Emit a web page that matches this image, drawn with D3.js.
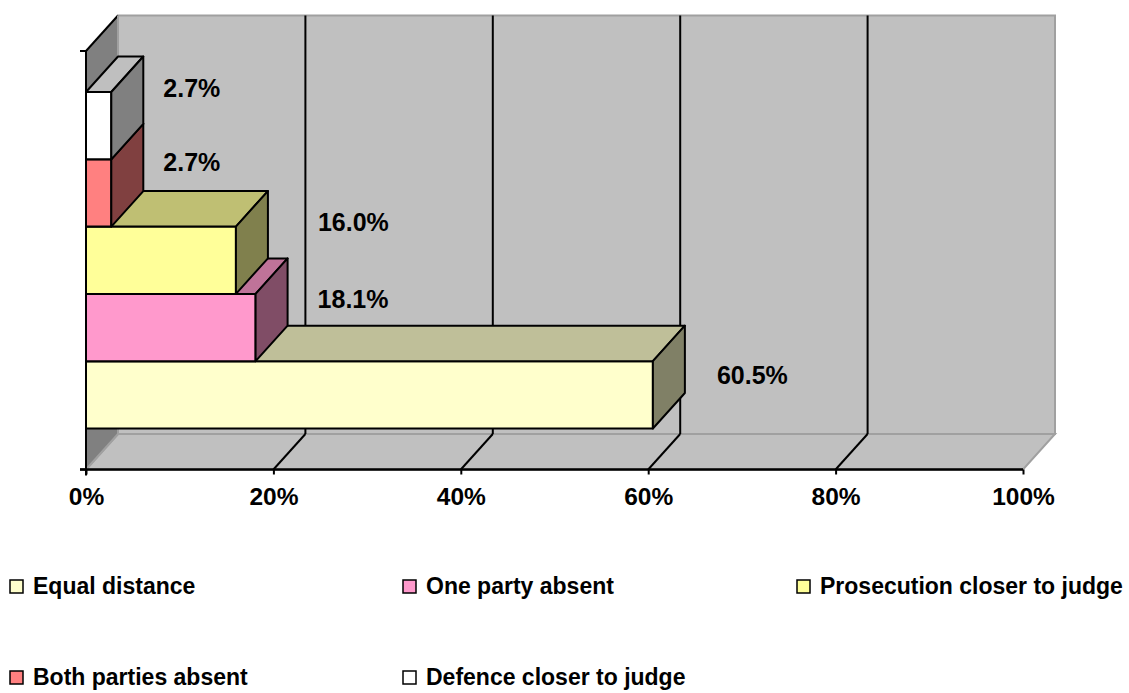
<!DOCTYPE html>
<html>
<head>
<meta charset="utf-8">
<script src="https://cdn.jsdelivr.net/npm/d3@7"></script>
<style>
  html, body { margin: 0; padding: 0; background: #ffffff; }
  svg { display: block; }
  text { font-family: "Liberation Sans", Arial, sans-serif; font-weight: bold; fill: #000; }
</style>
</head>
<body>
<svg id="chart" width="1129" height="693"></svg>
<script>
// Seating arrangement in court: share of hearings per category
const categories = [
  "Equal distance",
  "One party absent",
  "Prosecution closer to judge",
  "Both parties absent",
  "Defence closer to judge"
];
const values = [60.5, 18.1, 16.0, 2.7, 2.7];
const seriesColors = ["#FFFFCC", "#FF99CC", "#FFFF99", "#FF8080", "#FFFFFF"];
const tickValues = [0, 20, 40, 60, 80, 100];
const tickLabels = ["0%", "20%", "40%", "60%", "80%", "100%"];

// small per-label offsets for the value labels [dx, dy]
const labelNudge = [[2, 11], [0, 2], [20, -7], [-10, 0], [-10, -7]];

const svg = d3.select("#chart");

// 3-D depth offset of the plot box
const DX = 32, DY = -35.5;
const frontBottom = 469.5, frontTop = 51;

const x = d3.scaleLinear().domain([0, 100]).range([86, 1023]);
const y = d3.scaleBand().domain(categories)
  .range([frontBottom, frontTop])
  .paddingInner(0).paddingOuter(0.61);

const shade = (c, k) => {
  const r = d3.rgb(c);
  return d3.rgb(r.r * k, r.g * k, r.b * k).formatHex();
};
const poly = pts => "M" + pts.map(p => p.join(",")).join("L") + "Z";

const x0 = x(0), x1 = x(100);
const backBottom = frontBottom + DY, backTop = frontTop + DY;

// back wall
svg.append("path")
  .attr("d", poly([[x0 + DX, backTop], [x1 + DX, backTop], [x1 + DX, backBottom], [x0 + DX, backBottom]]))
  .attr("fill", "#c0c0c0").attr("stroke", "#a0a0a0").attr("stroke-width", 2);

// floor
svg.append("path")
  .attr("d", poly([[x0, frontBottom], [x1, frontBottom], [x1 + DX, backBottom], [x0 + DX, backBottom]]))
  .attr("fill", "#c0c0c0").attr("stroke", "#a0a0a0").attr("stroke-width", 2);

// left side wall
svg.append("path")
  .attr("d", poly([[x0, frontTop], [x0 + DX, backTop], [x0 + DX, backBottom], [x0, frontBottom]]))
  .attr("fill", "#808080").attr("stroke", "none");
svg.append("line")
  .attr("x1", x0).attr("y1", frontTop).attr("x2", x0 + DX).attr("y2", backTop)
  .attr("stroke", "#000").attr("stroke-width", 2);
svg.append("line")
  .attr("x1", x0 + DX).attr("y1", backTop).attr("x2", x0 + DX).attr("y2", backBottom)
  .attr("stroke", "#a0a0a0").attr("stroke-width", 2);
svg.append("line")
  .attr("x1", x0).attr("y1", frontBottom).attr("x2", x0 + DX).attr("y2", backBottom)
  .attr("stroke", "#a0a0a0").attr("stroke-width", 2);

// gridlines on the back wall and floor
const inner = tickValues.filter(t => t > 0 && t < 100);
svg.append("g").selectAll("line").data(inner).join("line")
  .attr("x1", d => x(d) + DX).attr("x2", d => x(d) + DX)
  .attr("y1", backTop).attr("y2", backBottom)
  .attr("stroke", "#000").attr("stroke-width", 2);
svg.append("g").selectAll("line").data(inner).join("line")
  .attr("x1", d => x(d)).attr("x2", d => x(d) + DX)
  .attr("y1", frontBottom).attr("y2", backBottom)
  .attr("stroke", "#000").attr("stroke-width", 2);

// category axis (front left) and value axis (front bottom)
svg.append("line")
  .attr("x1", x0).attr("x2", x0).attr("y1", frontTop).attr("y2", frontBottom + 6)
  .attr("stroke", "#000").attr("stroke-width", 2);
svg.append("g").selectAll("line").data([frontTop, frontBottom]).join("line")
  .attr("x1", x0 - 6).attr("x2", x0).attr("y1", d => d).attr("y2", d => d)
  .attr("stroke", "#000").attr("stroke-width", 2);

const xAxis = svg.append("g")
  .attr("transform", `translate(0,${frontBottom})`)
  .call(d3.axisBottom(x).tickValues(tickValues).tickFormat((d, i) => tickLabels[i]).tickSize(5).tickPadding(13));
xAxis.select(".domain").attr("stroke", "#000").attr("stroke-width", 2.5)
  .attr("d", `M${x0 - 6},0H${x1}`);
xAxis.selectAll(".tick line").attr("stroke", "#000").attr("stroke-width", 2);
xAxis.selectAll(".tick text")
  .attr("font-size", 24.5).attr("font-family", "Liberation Sans, Arial, sans-serif")
  .attr("font-weight", "bold").attr("fill", "#000").attr("dy", "0.71em");

// bars, drawn bottom to top so upper fronts overlap lower tops
const bars = svg.append("g");
categories.forEach((c, i) => {
  const v = values[i];
  const xe = x(v), yt = y(c), yb = y(c) + y.bandwidth();
  const g = bars.append("g");
  const st = { stroke: "#000", "stroke-width": 2, "stroke-linejoin": "round" };
  const faces = [
    { d: poly([[x0, yt], [xe, yt], [xe, yb], [x0, yb]]), fill: seriesColors[i] },
    { d: poly([[x0, yt], [xe, yt], [xe + DX, yt + DY], [x0 + DX, yt + DY]]), fill: shade(seriesColors[i], 0.75) },
    { d: poly([[xe, yt], [xe + DX, yt + DY], [xe + DX, yb + DY], [xe, yb]]), fill: shade(seriesColors[i], 0.5) }
  ];
  faces.forEach(f => {
    const p = g.append("path").attr("d", f.d).attr("fill", f.fill);
    Object.entries(st).forEach(([k, val]) => p.attr(k, val));
  });
});

// value labels
svg.append("g").selectAll("text").data(categories).join("text")
  .attr("x", (c, i) => x(values[i]) + DX + 30 + labelNudge[i][0])
  .attr("y", (c, i) => y(c) + y.bandwidth() / 2 - 22 + labelNudge[i][1])
  .attr("font-size", 25)
  .text((c, i) => values[i].toFixed(1) + "%");

// legend
const legendCols = [10, 403, 797];
const legendRows = [594, 685];
const legend = svg.append("g").selectAll("g").data(categories).join("g")
  .attr("transform", (c, i) => `translate(${legendCols[i % 3]},${legendRows[Math.floor(i / 3)]})`);
legend.append("rect")
  .attr("x", 0).attr("y", -14).attr("width", 13).attr("height", 13)
  .attr("fill", (c, i) => seriesColors[i]).attr("stroke", "#000").attr("stroke-width", 1.5);
legend.append("text")
  .attr("x", 23).attr("y", 0)
  .attr("font-size", 23)
  .text(c => c);
</script>
</body>
</html>
